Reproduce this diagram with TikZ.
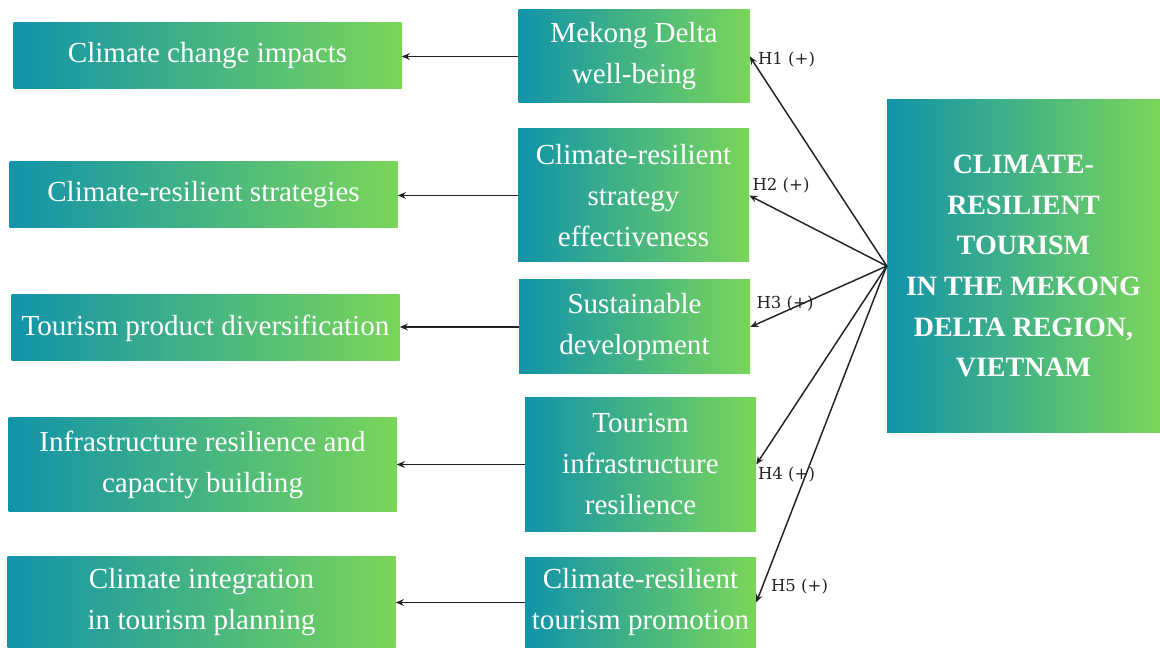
\documentclass[tikz,border=0pt]{standalone}
\usepackage{fontspec}
\setmainfont{Liberation Serif}
\newfontfamily\hypfont{DejaVu Serif}
\usepackage{tikz}
\usetikzlibrary{arrows.meta, positioning, calc}
\definecolor{deltateal}{HTML}{1193AA}
\definecolor{deltagreen}{HTML}{7AD659}
\definecolor{linkgray}{HTML}{222222}

\begin{document}
\begin{tikzpicture}[
  x=0.75pt, y=-0.75pt,
  box/.style={shade, left color=deltateal, right color=deltagreen, text=white,
    align=center, inner sep=0pt, font=\fontsize{21.8}{30.75}\selectfont},
  cause/.style={box, minimum width=291pt},
  factor/.style={box, minimum width=173.25pt},
  core/.style={box, minimum width=204.75pt, minimum height=249pt,
    font=\fontsize{21}{30.5}\selectfont\bfseries},
  hyp/.style={text=linkgray, inner sep=0pt, font=\hypfont\fontsize{12.4}{14}\selectfont},
  arrow/.style={-{Stealth[length=6pt, width=5pt]}, draw=linkgray, line width=1.1pt},
]
\useasboundingbox (0,0) rectangle (1160,648);

%% Outcome column (left)
\node[cause, minimum height=49.5pt] (out1) at (207.5,56) {Climate change impacts};
\node[cause, minimum height=49.5pt] (out2) at (203.5,195) {Climate-resilient strategies};
\node[cause, minimum height=49.5pt] (out3) at (205.5,328) {Tourism product diversification};
\node[cause, minimum height=69.75pt] (out4) at (202.5,464.5) {Infrastructure resilience and\\capacity building};
\node[cause, minimum height=69pt] (out5) at (201.5,602) {Climate integration\\in tourism planning};

%% Factor column (middle)
\node[factor, minimum height=69.75pt] (fac1) at (634,56.5) {Mekong Delta\\well-being};
\node[factor, minimum height=99.75pt] (fac2) at (633.5,195.5) {Climate-resilient\\strategy\\effectiveness};
\node[factor, minimum height=70.5pt] (fac3) at (634.5,327) {Sustainable\\development};
\node[factor, minimum height=99.75pt] (fac4) at (640.5,464.5) {Tourism\\infrastructure\\resilience};
\node[factor, minimum height=68.25pt] (fac5) at (640.5,602.5) {Climate-resilient\\tourism promotion};

%% Core concept (right)
\node[core] (crt) at (1023.5,266) {CLIMATE-\\RESILIENT\\TOURISM\\IN THE MEKONG\\DELTA REGION,\\VIETNAM};

%% Hypotheses from the core
\foreach \i in {1,...,5}
  \draw[arrow] (crt.west) -- (fac\i.east);

\node[hyp] (h1) at (786.5,60) {H1 (+)};
\node[hyp] (h2) at (781,186) {H2 (+)};
\node[hyp] (h3) at (785,304) {H3 (+)};
\node[hyp] (h4) at (786.5,475) {H4 (+)};
\node[hyp] (h5) at (799.5,587) {H5 (+)};

%% Factor -> outcome
\foreach \i in {1,...,5}
  \draw[arrow] (fac\i.west) -- (fac\i.west -| out\i.east);

\end{tikzpicture}
\end{document}
